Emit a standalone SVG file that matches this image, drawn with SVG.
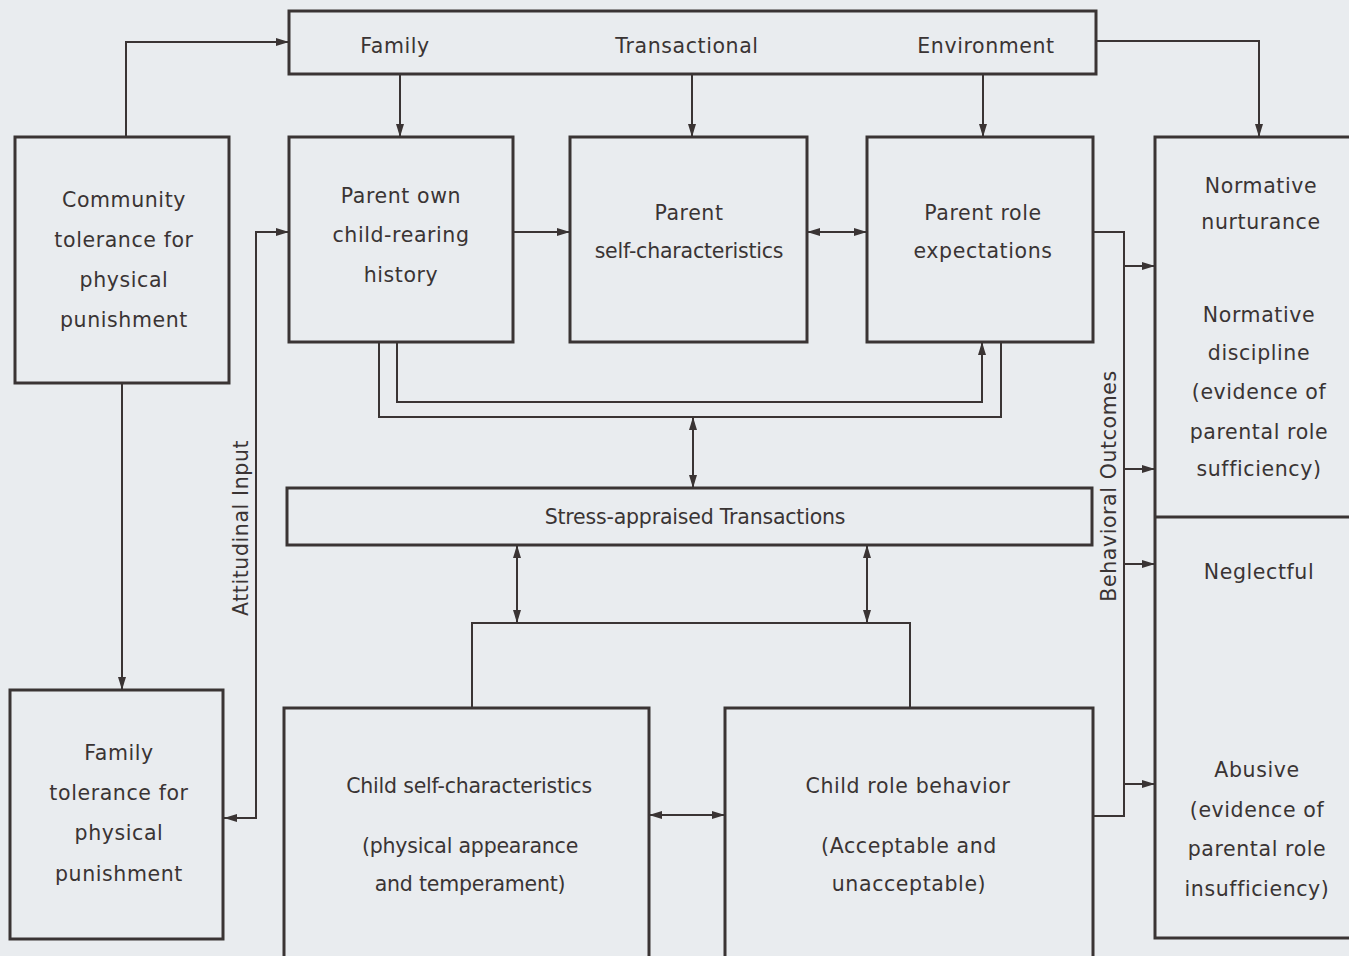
<svg xmlns="http://www.w3.org/2000/svg" width="1349" height="956" viewBox="0 0 1349 956">
<defs>
<style>
.box{fill:none;stroke:#3a3434;stroke-width:3}
.c{fill:none;stroke:#3a3434;stroke-width:2}
.t{font-family:"DejaVu Sans","Liberation Sans",sans-serif;font-size:20.5px;letter-spacing:0.6px;fill:#3a3434;text-anchor:middle}
.tight{letter-spacing:-0.2px}
</style>
<marker id="ah" viewBox="0 0 13 8" refX="13" refY="4" markerWidth="13" markerHeight="8" markerUnits="userSpaceOnUse" orient="auto-start-reverse">
<path d="M0,0 L13,4 L0,8 z" fill="#3a3434"/>
</marker>
</defs>
<rect x="0" y="0" width="1349" height="956" fill="#e9ecef"/>

<g id="context">
<rect class="box" x="289" y="11" width="807" height="63"/>
<text class="t" x="395" y="53">Family</text>
<text class="t" x="687" y="53">Transactional</text>
<text class="t" x="986" y="53">Environment</text>
</g>

<g id="community">
<rect class="box" x="15" y="137" width="214" height="246"/>
<text class="t" x="124" y="207">Community</text>
<text class="t" x="124" y="247">tolerance for</text>
<text class="t" x="124" y="287">physical</text>
<text class="t" x="124" y="327">punishment</text>
</g>

<g id="parent-own">
<rect class="box" x="289" y="137" width="224" height="205"/>
<text class="t" x="401" y="203">Parent own</text>
<text class="t" x="401" y="242">child-rearing</text>
<text class="t" x="401" y="282">history</text>
</g>

<g id="parent-self">
<rect class="box" x="570" y="137" width="237" height="205"/>
<text class="t" x="689" y="220">Parent</text>
<text class="t tight" x="689" y="258">self-characteristics</text>
</g>

<g id="parent-role">
<rect class="box" x="867" y="137" width="226" height="205"/>
<text class="t" x="983" y="220">Parent role</text>
<text class="t" x="983" y="258">expectations</text>
</g>

<g id="outcomes">
<rect class="box" x="1155" y="137" width="240" height="801"/>
<line class="box" x1="1155" y1="517" x2="1395" y2="517"/>
<text class="t" x="1261" y="193">Normative</text>
<text class="t" x="1261" y="229">nurturance</text>
<text class="t" x="1259" y="322">Normative</text>
<text class="t" x="1259" y="360">discipline</text>
<text class="t" x="1259" y="399">(evidence of</text>
<text class="t" x="1259" y="439">parental role</text>
<text class="t" x="1259" y="476">sufficiency)</text>
<text class="t" x="1259" y="579">Neglectful</text>
<text class="t" x="1257" y="777">Abusive</text>
<text class="t" x="1257" y="817">(evidence of</text>
<text class="t" x="1257" y="856">parental role</text>
<text class="t" x="1257" y="896">insufficiency)</text>
</g>

<g id="stress">
<rect class="box" x="287" y="488" width="805" height="57"/>
<text class="t tight" x="695" y="524">Stress-appraised Transactions</text>
</g>

<g id="family-tolerance">
<rect class="box" x="10" y="690" width="213" height="249"/>
<text class="t" x="119" y="760">Family</text>
<text class="t" x="119" y="800">tolerance for</text>
<text class="t" x="119" y="840">physical</text>
<text class="t" x="119" y="881">punishment</text>
</g>

<g id="child-self">
<rect class="box" x="284" y="708" width="365" height="270"/>
<text class="t tight" x="469" y="793">Child self-characteristics</text>
<text class="t tight" x="470" y="853">(physical appearance</text>
<text class="t tight" x="470" y="891">and temperament)</text>
</g>

<g id="child-role">
<rect class="box" x="725" y="708" width="368" height="270"/>
<text class="t" x="908" y="793">Child role behavior</text>
<text class="t" x="909" y="853">(Acceptable and</text>
<text class="t" x="909" y="891">unacceptable)</text>
</g>

<g id="labels">
<text class="t" transform="translate(248,528) rotate(-90)">Attitudinal Input</text>
<text class="t" transform="translate(1116,486) rotate(-90)">Behavioral Outcomes</text>
</g>

<g id="connectors">
<path class="c" d="M126,137 V42 H289" marker-end="url(#ah)"/>
<path class="c" d="M400,74 V137" marker-end="url(#ah)"/>
<path class="c" d="M692,74 V137" marker-end="url(#ah)"/>
<path class="c" d="M983,74 V137" marker-end="url(#ah)"/>
<path class="c" d="M1096,41 H1259 V137" marker-end="url(#ah)"/>
<path class="c" d="M513,232 H570" marker-end="url(#ah)"/>
<path class="c" d="M807,232 H867" marker-start="url(#ah)" marker-end="url(#ah)"/>
<path class="c" d="M397,342 V402 H982 V342" marker-end="url(#ah)"/>
<path class="c" d="M1001,342 V417 H379 V342"/>
<path class="c" d="M693,417 V488" marker-start="url(#ah)" marker-end="url(#ah)"/>
<path class="c" d="M517,545 V623" marker-start="url(#ah)" marker-end="url(#ah)"/>
<path class="c" d="M867,545 V623" marker-start="url(#ah)" marker-end="url(#ah)"/>
<path class="c" d="M472,707 V623 H910 V707"/>
<path class="c" d="M649,815 H725" marker-start="url(#ah)" marker-end="url(#ah)"/>
<path class="c" d="M1093,232 H1124 V816 H1093"/>
<path class="c" d="M1124,266 H1155" marker-end="url(#ah)"/>
<path class="c" d="M1124,469 H1155" marker-end="url(#ah)"/>
<path class="c" d="M1124,564 H1155" marker-end="url(#ah)"/>
<path class="c" d="M1124,784 H1155" marker-end="url(#ah)"/>
<path class="c" d="M122,383 V690" marker-end="url(#ah)"/>
<path class="c" d="M224,818 H256 V232 H289" marker-start="url(#ah)" marker-end="url(#ah)"/>
</g>
</svg>
